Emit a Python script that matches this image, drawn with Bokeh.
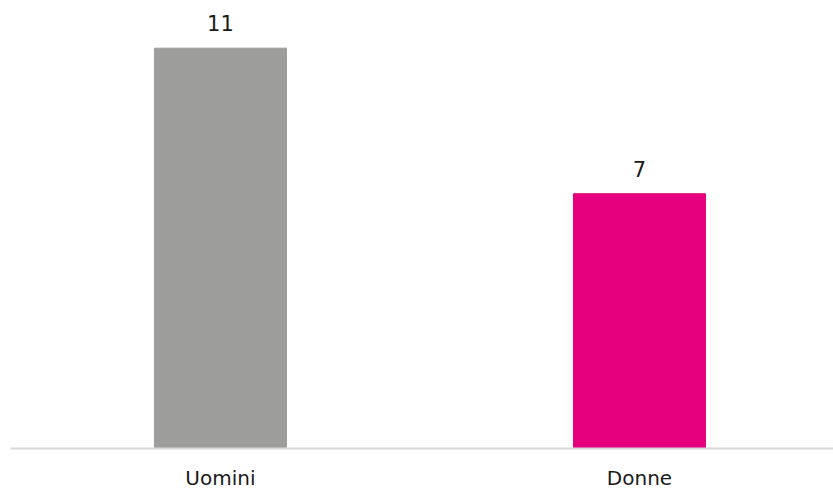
from bokeh.plotting import figure
from bokeh.models import ColumnDataSource, FixedTicker
from bokeh.core.properties import value
from bokeh.embed import file_html
from bokeh.resources import INLINE

categories = ["Uomini", "Donne"]
values = [11, 7]
colors = ["#9d9d9c", "#e6007e"]

xs = list(range(len(categories)))
src = ColumnDataSource(dict(x=xs, top=values, color=colors,
                            label=[str(v) for v in values]))

p = figure(frame_width=823, frame_height=448, output_backend="svg", toolbar_location=None,
           x_range=(-0.501, 1.463), y_range=(0, 12.31),
           min_border_left=10, min_border_right=0, min_border_top=0, min_border_bottom=0)

p.vbar(x="x", top="top", width=0.315, color="color", source=src)
p.text(x="x", y="top", text="label", source=src, text_align="center",
       text_baseline="bottom", y_offset=-17, text_font=value("DejaVu Sans"),
       text_font_size="21px", text_color="#1a1a1a")

p.yaxis.visible = False
p.grid.visible = False
p.outline_line_color = None
p.background_fill_color = "white"
p.border_fill_color = "white"

ax = p.xaxis[0]
ax.ticker = FixedTicker(ticks=xs)
ax.major_label_overrides = {i: c for i, c in zip(xs, categories)}
ax.major_tick_line_color = None
ax.major_tick_out = 0
ax.major_tick_in = 0
ax.minor_tick_line_color = None
ax.axis_line_color = "#d9d9d9"
ax.axis_line_width = 2
ax.major_label_text_font = "DejaVu Sans"
ax.major_label_text_font_size = "20px"
ax.major_label_text_color = "#1a1a1a"
ax.major_label_standoff = 17

open("out.html", "w").write(file_html(p, INLINE))
